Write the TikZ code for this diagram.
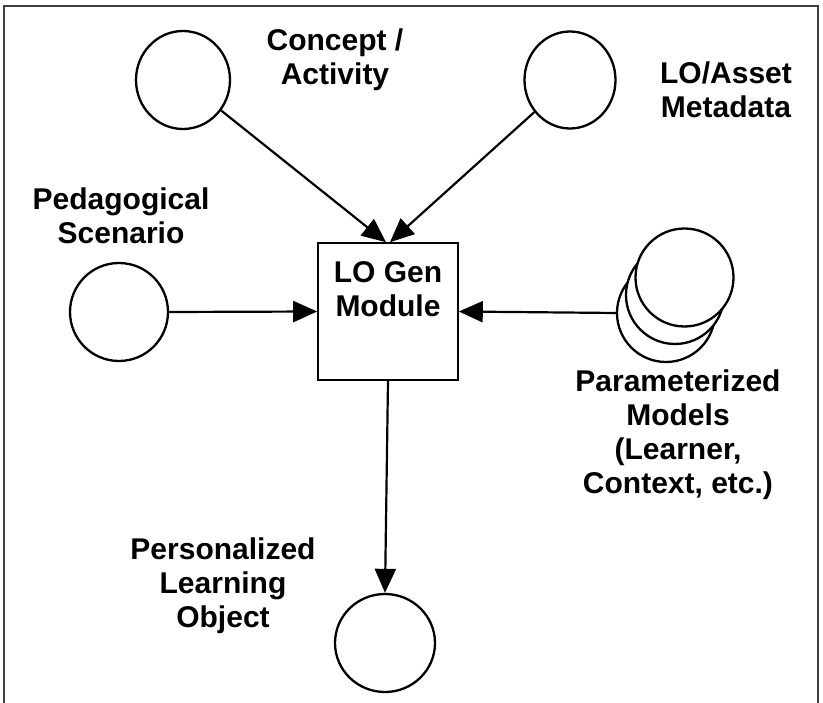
\documentclass[tikz,border=0pt]{standalone}
\usepackage{fontspec}
\setmainfont{Liberation Sans}
\usetikzlibrary{arrows.meta,shapes.geometric,calc}
\begin{document}
\begin{tikzpicture}[x=1pt,y=-1pt,
  ball/.style={draw,line width=2.3pt,ellipse,fill=white,inner sep=0pt},
  lbl/.style={align=center,font=\bfseries\fontsize{30}{34}\selectfont,inner sep=0pt},
  conn/.style={line width=2.2pt,-{Triangle[length=24pt,width=21pt]}}]
\useasboundingbox (0,0) rectangle (823,703);
\draw[line width=2pt,black!75] (4,710) -- (4,6) -- (818,6) -- (818,710);
% nodes
\node[draw,line width=1.6pt,minimum width=140pt,minimum height=137pt,inner sep=0pt] (box) at (388,311.5) {};
\node[lbl] (boxtxt) at (388,289) {LO Gen\\Module};
\node[ball,minimum width=94pt,minimum height=98pt] (concept) at (183,80) {};
\node[ball,minimum width=91pt,minimum height=97pt] (meta) at (570,80) {};
\node[ball,minimum width=98pt,minimum height=98pt] (ped) at (119,312) {};
\node[ball,minimum width=100pt,minimum height=98pt] (pers) at (385,643) {};
\node[ball,minimum width=98pt,minimum height=98pt] (m3) at (666,313) {};
\node[ball,minimum width=98pt,minimum height=98pt] (m2) at (675,295) {};
\node[ball,minimum width=98pt,minimum height=98pt] (m1) at (684.5,277.5) {};
% labels
\node[lbl] (lconcept) at (335,60) {Concept /\\Activity};
\node[lbl] (lmeta) at (726,90) {LO/Asset\\Metadata};
\node[lbl] (lped) at (121,216) {Pedagogical\\Scenario};
\node[lbl] (lmod) at (678,435) {Parameterized\\Models\\(Learner,\\Context, etc.)};
\node[lbl] (lpers) at (223,586) {Personalized\\Learning\\Object};
% connectors
\coordinate (tl) at ($(box.north)+(-2,0)$);
\coordinate (tr) at ($(box.north)+(2,0)$);
\draw[conn] (concept) -- (tl);
\draw[conn] (meta) -- (tr);
\draw[conn] (ped.east) -- (box.west);
\draw[conn] (m3.west) -- (box.east);
\draw[conn] (box.south) -- (pers.north);
\end{tikzpicture}
\end{document}
